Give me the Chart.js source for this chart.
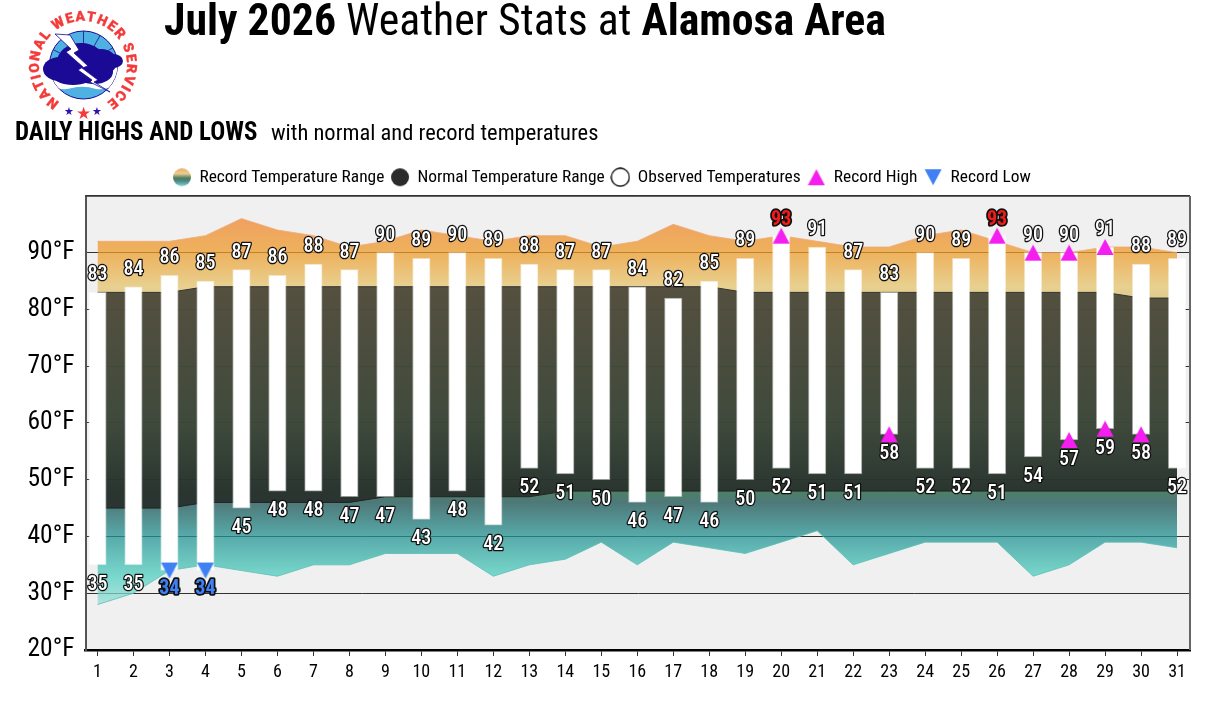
<!DOCTYPE html>
<html>
<head>
<meta charset="utf-8">
<title>July 2026 Weather Stats at Alamosa Area</title>
<script src="https://cdn.jsdelivr.net/npm/chart.js@4"></script>
<style>
  html, body { margin: 0; padding: 0; background: #fff; }
  #wrap { position: relative; width: 1209px; height: 703px; overflow: hidden; font-family: Roboto, sans-serif; font-stretch: 75%; color: #000; }
  #chart { position: absolute; left: 0; top: 0; }
  .txt { position: absolute; white-space: nowrap; }
  #mainTitle { left: 164px; top: -5px; font-size: 43.75px; line-height: 50px; }
  #subTitle { left: 15px; top: 118px; font-size: 24.9px; line-height: 28px; font-weight: 700; }
  #subTitle2 { left: 271px; top: 118px; font-size: 22.5px; line-height: 28px; }
  #logo { position: absolute; left: 0; top: 0; }
</style>
</head>
<body>
<div id="wrap">
  <canvas id="chart" width="1209" height="703"></canvas>
  <svg id="logo" width="150" height="125" viewBox="0 0 150 125">
    <defs>
      <clipPath id="disc"><circle cx="83.5" cy="65" r="34"/></clipPath>
      <path id="ring" d="M 59.7 102.3 A 44 44 0 1 1 106.3 102.3"/>
    </defs>
    <circle cx="83.5" cy="65" r="34" fill="#4fb0e2" stroke="#1a0a96" stroke-width="1"/>
    <g clip-path="url(#disc)">
      <path d="M 45 82 Q 60 92 72 88 Q 84 85 96 89 Q 108 91 122 80 L 122 60 L 45 60 Z" fill="#fff"/>
      <path d="M 83.5 65 L 62 34 M 83.5 65 L 83.5 28 M 83.5 65 L 102 32 M 83.5 65 L 116 46 M 83.5 65 L 50 48" stroke="#1a0a96" stroke-width="0.8" fill="none"/>
    </g>
    <g fill="#1a0a96">
      <ellipse cx="60" cy="69" rx="17" ry="12"/>
      <ellipse cx="81" cy="62" rx="24" ry="19"/>
      <ellipse cx="101" cy="62" rx="16" ry="13"/>
      <ellipse cx="113" cy="61" rx="10" ry="7"/>
      <ellipse cx="94" cy="72" rx="19" ry="12"/>
      <ellipse cx="73" cy="76" rx="20" ry="9"/>
    </g>
    <polygon points="55,34 70,35 79,50 74,53 88,66 82,68 98,80 94,82 110,92 90,82 92,80 78,70 83,67 66,52 71,49" fill="#fff" stroke="#1a0a96" stroke-width="0.8"/>
    <text font-family="Roboto, sans-serif" font-weight="900" font-size="14" fill="#f53a3a" stroke="#f53a3a" stroke-width="0.3" style="font-stretch:100%">
      <textPath href="#ring" textLength="226" lengthAdjust="spacing">NATIONAL WEATHER SERVICE</textPath>
    </text>
    <text x="83" y="119" text-anchor="middle" font-size="17" fill="#f53a3a">★</text>
    <text x="69" y="115" text-anchor="middle" font-size="11" fill="#2a14b0">★</text>
    <text x="97" y="115" text-anchor="middle" font-size="11" fill="#2a14b0">★</text>
  </svg>
  <div class="txt" id="mainTitle"><b>July 2026</b> Weather Stats at <b>Alamosa Area</b></div>
  <div class="txt" id="subTitle">DAILY HIGHS AND LOWS</div>
  <div class="txt" id="subTitle2">with normal and record temperatures</div>
</div>

<script>
// ===== Data =====
const days = [1,2,3,4,5,6,7,8,9,10,11,12,13,14,15,16,17,18,19,20,21,22,23,24,25,26,27,28,29,30,31];
const obsHigh = [83,84,86,85,87,86,88,87,90,89,90,89,88,87,87,84,82,85,89,93,91,87,83,90,89,93,90,90,91,88,89];
const obsLow = [35,35,34,34,45,48,48,47,47,43,48,42,52,51,50,46,47,46,50,52,51,51,58,52,52,51,54,57,59,58,52];
const normalHigh = [83,83,83,84,84,84,84,84,84,84,84,84,84,84,84,84,84,84,83,83,83,83,83,83,83,83,83,83,83,82,82];
const normalLow = [45,45,45,46,46,46,46,46,47,47,47,47,47,48,48,48,48,48,48,48,48,48,48,48,48,48,48,48,48,48,48];
const recordHigh = [92,92,92,93,96,94,93,91,92,94,93,92,93,93,91,92,95,93,92,93,92,91,91,93,94,92,90,90,91,91,90];
const recordLow = [28,30,34,35,34,33,35,35,37,37,37,33,35,36,39,35,39,38,37,39,41,35,37,39,39,39,33,35,39,39,38];

const recHighOnHighDays = [20,26,27,28,29];
const recHighOnLowDays = [23,28,29,30];
const recLowDays = [3,4];
const redLabelDays = [20,26];
const blueLabelDays = [3,4];

const legendNames = ['Record Temperature Range','Normal Temperature Range','Observed Temperatures','Record High','Record Low'];
const yTickValues = [20,30,40,50,60,70,80,90];

const FONT = 'Roboto, sans-serif';
const MAGENTA = '#f51ef0';
const BLUE = '#3f80f5';

function pairs(vals) {
    return days.map((d, i) => ({x: d, y: vals[i]}));
}

// triangle and circle icons, also used as point styles
function triangleIcon(color, down) {
    const c = document.createElement('canvas');
    c.width = 18; c.height = 18;
    const g = c.getContext('2d');
    g.fillStyle = color;
    g.beginPath();
    if (down) {
        g.moveTo(0.5, 1); g.lineTo(17.5, 1); g.lineTo(9, 17);
    } else {
        g.moveTo(0.5, 17); g.lineTo(17.5, 17); g.lineTo(9, 1);
    }
    g.closePath();
    g.fill();
    return c;
}

function circleIcon(paint) {
    const c = document.createElement('canvas');
    c.width = 20; c.height = 20;
    const g = c.getContext('2d');
    g.beginPath();
    g.arc(10, 10, 9, 0, Math.PI * 2);
    paint(g);
    return c;
}

const recordIcon = circleIcon(function(g) {
    const lg = g.createLinearGradient(0, 1, 0, 19);
    lg.addColorStop(0, '#f0a868');
    lg.addColorStop(0.3, '#e8cf90');
    lg.addColorStop(0.55, '#4a7a5c');
    lg.addColorStop(0.72, '#4f8888');
    lg.addColorStop(1, '#80dcd0');
    g.fillStyle = lg;
    g.fill();
});
const normalIcon = circleIcon(function(g) { g.fillStyle = '#2b2b2b'; g.fill(); });
const observedIcon = circleIcon(function(g) {
    g.fillStyle = '#fff'; g.fill();
    g.lineWidth = 1.3; g.strokeStyle = '#000'; g.stroke();
});
const highIcon = triangleIcon(MAGENTA, false);
const lowIcon = triangleIcon(BLUE, true);

function valueGradient(ctx, stops) {
    const chart = ctx.chart;
    if (!chart.chartArea) return 'rgba(0,0,0,0)';
    const y = chart.scales.y;
    const top = y.getPixelForValue(stops[0][0]);
    const bottom = y.getPixelForValue(stops[stops.length - 1][0]);
    const lg = chart.ctx.createLinearGradient(0, top, 0, bottom);
    for (const s of stops) {
        lg.addColorStop((y.getPixelForValue(s[0]) - top) / (bottom - top), s[1]);
    }
    return lg;
}

const recordStops = [
    [96, 'rgba(240,133,48,.75)'],
    [90, 'rgba(237,157,43,.75)'],
    [84, 'rgba(229,197,112,.75)'],
    [48, 'rgba(23,91,56,.75)'],
    [46, 'rgba(24,80,80,.75)'],
    [40, 'rgba(37,147,147,.75)'],
    [33, 'rgba(80,208,192,.75)'],
    [28, 'rgba(155,221,216,.75)']
];
const normalStops = [
    [84, 'rgba(69,66,55,.9)'],
    [60, 'rgba(56,65,54,.9)'],
    [48, 'rgba(38,45,42,.9)']
];

// plot background and the frame
const framePlugin = {
    id: 'frame',
    beforeDraw(chart) {
        const a = chart.chartArea, c = chart.ctx;
        c.save();
        c.fillStyle = '#f0f0f0';
        c.fillRect(a.left, a.top, a.width, a.height);
        c.restore();
    },
    afterDraw(chart) {
        const a = chart.chartArea, c = chart.ctx;
        c.save();
        c.strokeStyle = '#333';
        c.lineWidth = 1.5;
        c.beginPath(); c.moveTo(a.left, a.top); c.lineTo(a.right, a.top); c.stroke();
        c.strokeStyle = '#666';
        c.lineWidth = 2;
        c.beginPath(); c.moveTo(a.right, a.top); c.lineTo(a.right, a.bottom); c.stroke();
        c.restore();
    }
};

// outlined value labels above and below each bar
const valueLabelPlugin = {
    id: 'valueLabels',
    afterDatasetsDraw(chart) {
        const c = chart.ctx, xs = chart.scales.x, ys = chart.scales.y;
        c.save();
        c.textAlign = 'center';
        c.textBaseline = 'middle';
        c.lineJoin = 'round';
        days.forEach(function(d, i) {
            const px = xs.getPixelForValue(d);
            const red = redLabelDays.includes(d);
            const blue = blueLabelDays.includes(d);
            c.strokeStyle = '#111';

            c.font = (red ? '700' : '500') + ' condensed 20px ' + FONT;
            c.lineWidth = red ? 3.5 : 2.5;
            c.fillStyle = red ? '#f51a1a' : '#fff';
            let py = ys.getPixelForValue(obsHigh[i]) - (red ? 16 : 17);
            c.strokeText(obsHigh[i], px, py);
            c.fillText(obsHigh[i], px, py);

            c.font = (blue ? '700' : '500') + ' condensed 20px ' + FONT;
            c.lineWidth = blue ? 3.5 : 2.5;
            c.fillStyle = blue ? BLUE : '#fff';
            py = ys.getPixelForValue(obsLow[i]) + (blue ? 18 : 20);
            c.strokeText(obsLow[i], px, py);
            c.fillText(obsLow[i], px, py);
        });
        c.restore();
    }
};

const highMarks = recHighOnHighDays.map(d => ({x: d, y: obsHigh[d - 1]}))
    .concat(recHighOnLowDays.map(d => ({x: d, y: obsLow[d - 1]})));
const lowMarks = recLowDays.map(d => ({x: d, y: obsLow[d - 1]}));

const chart = new Chart(document.getElementById('chart').getContext('2d'), {
    data: {
        datasets: [
            {
                type: 'line', label: 'recordHigh', data: pairs(recordHigh), order: 6,
                fill: '+1', pointRadius: 0, tension: 0, borderWidth: 1,
                borderColor: 'rgba(240,170,120,.8)',
                backgroundColor: ctx => valueGradient(ctx, recordStops)
            },
            {
                type: 'line', label: 'recordLow', data: pairs(recordLow), order: 5,
                fill: false, pointRadius: 0, tension: 0, borderWidth: 1,
                borderColor: 'rgba(90,190,180,.8)'
            },
            {
                type: 'line', label: 'normalHigh', data: pairs(normalHigh), order: 4,
                fill: '+1', pointRadius: 0, tension: 0, borderWidth: 1,
                borderColor: '#333',
                backgroundColor: ctx => valueGradient(ctx, normalStops)
            },
            {
                type: 'line', label: 'normalLow', data: pairs(normalLow), order: 3,
                fill: false, pointRadius: 0, tension: 0, borderWidth: 1,
                borderColor: '#222'
            },
            {
                type: 'bar', label: 'observed', order: 2,
                data: days.map((d, i) => ({x: d, y: [obsLow[i], obsHigh[i]]})),
                backgroundColor: '#fff',
                borderColor: 'rgba(255,255,255,.5)',
                borderWidth: 1, borderSkipped: false, barThickness: 17.5
            },
            {
                type: 'line', label: 'recHighMarks', data: highMarks, order: 1,
                showLine: false, pointStyle: highIcon, pointRadius: 9
            },
            {
                type: 'line', label: 'recLowMarks', data: lowMarks, order: 1,
                showLine: false, pointStyle: lowIcon, pointRadius: 9
            }
        ]
    },
    options: {
        responsive: false,
        animation: false,
        devicePixelRatio: 1,
        layout: { padding: { top: 161.5, right: 19, bottom: 0, left: 14 } },
        plugins: {
            tooltip: { enabled: false },
            legend: {
                position: 'top',
                onClick: null,
                labels: {
                    usePointStyle: true,
                    padding: 7,
                    color: '#000',
                    font: { family: FONT, size: 17.4, weight: '400 condensed' },
                    generateLabels() {
                        const icons = [recordIcon, normalIcon, observedIcon, highIcon, lowIcon];
                        return legendNames.map((n, i) => ({
                            text: n, pointStyle: icons[i], fontColor: '#000',
                            lineWidth: 0, hidden: false, datasetIndex: i
                        }));
                    }
                }
            }
        },
        scales: {
            x: {
                type: 'linear',
                offset: false,
                min: 0.667, max: 31.36,
                afterFit(s) { s.height = 53; },
                border: { color: '#000', width: 2.5 },
                grid: { offset: false, drawOnChartArea: false, color: '#333', tickLength: 6 },
                ticks: {
                    stepSize: 1, includeBounds: false, autoSkip: false, maxRotation: 0,
                    color: '#000', padding: 6,
                    font: { family: FONT, size: 18, weight: '400 condensed' },
                    callback: v => days.includes(v) ? String(v) : ''
                }
            },
            y: {
                min: 20, max: 100,
                afterFit(s) { s.width = 71.5; },
                border: { color: '#555', width: 2 },
                grid: { color: '#333', lineWidth: 1, drawTicks: false },
                ticks: {
                    stepSize: 10, color: '#000', padding: 11,
                    font: { family: FONT, size: 25.5, weight: '400 condensed' },
                    callback: v => yTickValues.includes(v) ? v + '°F' : ''
                }
            }
        }
    },
    plugins: [framePlugin, valueLabelPlugin]
});
</script>
</body>
</html>
